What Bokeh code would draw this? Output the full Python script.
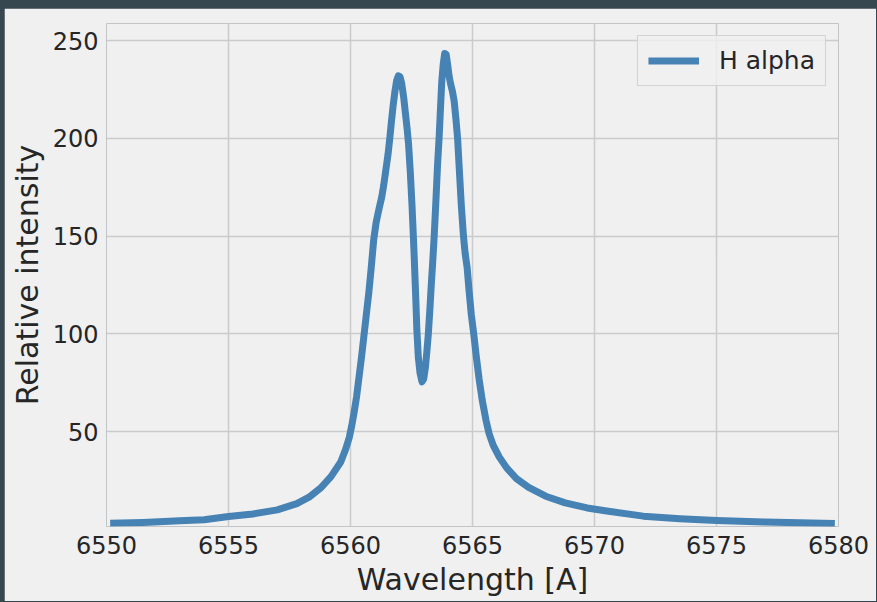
from bokeh.plotting import figure
from bokeh.models import FixedTicker, GlobalInlineStyleSheet
from bokeh.embed import file_html
from bokeh.resources import INLINE

# Data
wavelength = [6550.15, 6551.5, 6553.0, 6554.0, 6555.0, 6556.0, 6557.0, 6557.8,
              6558.3, 6558.8, 6559.2, 6559.6, 6559.8, 6559.95, 6560.05, 6560.15,
              6560.25, 6560.35, 6560.45, 6560.55, 6560.65, 6560.75, 6560.85,
              6560.95, 6561.05, 6561.17, 6561.28, 6561.36, 6561.45, 6561.54,
              6561.61, 6561.68, 6561.75, 6561.82, 6561.89, 6561.96, 6562.03,
              6562.1, 6562.18, 6562.25, 6562.32, 6562.38, 6562.45, 6562.52,
              6562.6, 6562.67, 6562.72, 6562.78, 6562.85, 6562.93, 6563.0,
              6563.07, 6563.13, 6563.19, 6563.25, 6563.31, 6563.37, 6563.43,
              6563.5, 6563.57, 6563.63, 6563.69, 6563.74, 6563.8, 6563.86,
              6563.92, 6563.98, 6564.04, 6564.1, 6564.18, 6564.25, 6564.32,
              6564.39, 6564.46, 6564.54, 6564.63, 6564.7, 6564.78, 6564.86,
              6564.95, 6565.05, 6565.15, 6565.27, 6565.4, 6565.55, 6565.68,
              6565.85, 6566.1, 6566.4, 6566.8, 6567.3, 6568.0, 6568.8,
              6569.7, 6570.5, 6572.0, 6573.5, 6575.0, 6577.0, 6579.85]
intensity = [3.2, 3.6, 4.4, 5.0, 6.6, 7.9, 10.0, 13.2,
             16.5, 21.5, 27.0, 34.5, 41.0, 47.0, 53.0, 60.0,
             68.0, 78.0, 88.0, 99.0, 110.0, 121.0, 134.0,
             148.0, 157.0, 164.0, 170.0, 176.0, 184.0, 192.0,
             200.0, 209.0, 217.0, 224.0, 229.5, 232.0, 231.5,
             228.0, 221.0, 213.0, 205.0, 197.0, 183.0, 166.0,
             143.0, 120.0, 102.0, 88.0, 80.0, 75.5, 77.0,
             83.0, 91.0, 100.0, 112.0, 125.0, 137.0, 150.0,
             168.0, 187.0, 200.0, 216.0, 229.0, 238.0, 243.5,
             243.0, 238.0, 232.0, 228.0, 224.0, 219.0, 210.0,
             200.0, 184.0, 166.0, 150.0, 141.0, 134.0, 122.0,
             110.0, 100.0, 89.0, 77.0, 66.0, 56.0, 49.0,
             43.0, 37.0, 31.5, 26.0, 21.5, 17.0, 13.6,
             11.0, 9.4, 6.8, 5.5, 4.6, 3.8, 3.0]
x_ticks = [6550, 6555, 6560, 6565, 6570, 6575, 6580]
y_ticks = [50, 100, 150, 200, 250]
series_name = "H alpha"
x_label = "Wavelength [A]"
y_label = "Relative intensity"

BG = "#f0f0f0"
TEXT = "#262626"
FONT = "DejaVu Sans"

p = figure(width=872, height=593, x_range=(6550, 6580), y_range=(1.5, 258.8),
           output_backend="svg", toolbar_location=None,
           min_border_left=102, min_border_right=38,
           min_border_top=15, min_border_bottom=75)
p.stylesheets = [GlobalInlineStyleSheet(
    css="html body { background: #37474f; padding: 8px 0 0 4px; }")]
p.background_fill_color = BG
p.border_fill_color = BG
p.outline_line_color = None

p.line(wavelength, intensity, line_width=7, line_color="steelblue",
       line_join="round", line_cap="butt", legend_label=series_name)

p.xaxis.ticker = FixedTicker(ticks=x_ticks)
p.yaxis.ticker = FixedTicker(ticks=y_ticks)
for ax in (p.xaxis[0], p.yaxis[0]):
    ax.axis_line_color = None
    ax.major_tick_line_color = None
    ax.minor_tick_line_color = None
    ax.major_tick_out = 0
    ax.major_tick_in = 0
    ax.major_label_text_font = FONT
    ax.major_label_text_font_size = "24px"
    ax.major_label_text_color = TEXT
    ax.axis_label_text_font = FONT
    ax.axis_label_text_font_size = "30px"
    ax.axis_label_text_font_style = "normal"
    ax.axis_label_text_color = TEXT

p.xaxis.axis_label = x_label
p.yaxis.axis_label = y_label
p.xaxis.major_label_standoff = 9
p.xaxis.axis_label_standoff = 5
p.yaxis.major_label_standoff = 8
p.yaxis.axis_label_standoff = 5

p.grid.grid_line_color = "#cbcbcb"
p.grid.grid_line_width = 1.5

lg = p.legend[0]
lg.location = "top_right"
lg.margin = 12
lg.padding = 10
lg.spacing = 0
lg.glyph_width = 51
lg.glyph_height = 23
lg.label_height = 23
lg.label_standoff = 20
lg.label_text_font = FONT
lg.label_text_font_size = "25px"
lg.label_text_color = TEXT
lg.background_fill_color = BG
lg.background_fill_alpha = 0.8
lg.border_line_color = "#cccccc"
lg.border_line_alpha = 0.8
lg.border_line_width = 1

open("out.html", "w").write(file_html(p, INLINE))
